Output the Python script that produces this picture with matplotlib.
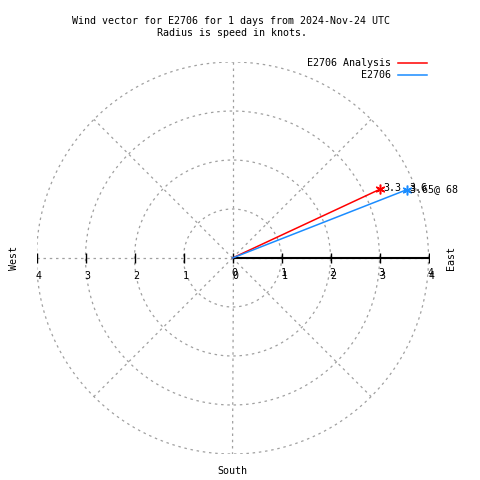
import numpy as np
import matplotlib.pyplot as plt

# wind vectors: speed in knots, compass direction (deg, clockwise from north)
series = ['E2706 Analysis', 'E2706']
speeds = [3.33, 3.82]
directions = [65.0, 68.6]
colors = ['#ff0000', '#1a8cff']
point_labels = ['3.3', '3.6']
extra_label = '3.65@ 68'

rings = [1, 2, 3, 4]
spokes = [0, 45, 90, 135, 180, 225, 270, 315]
right_ticks = [0, 1, 2, 3, 4]
left_ticks = [-4, -3, -2, -1]

plt.rcParams['font.family'] = ['DejaVu Sans Mono']
fs = 7.2
grey = '#a0a0a0'
dash = (0, (2, 3))

fig = plt.figure(figsize=(4.8, 4.8), dpi=100)
ax = fig.add_axes([36.5 / 480, 26 / 480, 392 / 480, 392 / 480])
ax.set_xlim(-4, 4)
ax.set_ylim(-4, 4)
ax.set_aspect('equal')
ax.axis('off')

# polar grid
t = np.linspace(0, 2 * np.pi, 361)
for r in rings:
    ax.plot(r * np.cos(t), r * np.sin(t), color=grey, lw=0.9, ls=dash)
for a in spokes:
    ar = np.radians(a)
    ax.plot([0, 4 * np.cos(ar)], [0, 4 * np.sin(ar)], color=grey, lw=0.9, ls=dash)

# axis along east
ax.plot([0, 4], [0, 0], color='black', lw=1.5)
ticks = left_ticks + right_ticks
ax.plot(ticks, [0] * len(ticks), ls='none', marker='|', ms=7.5, mew=1, color='black')
for v in left_ticks:
    ax.text(v + 0.04, -0.36, str(abs(v)), fontsize=fs, ha='center', va='center')
for v in right_ticks:
    ax.text(v + 0.04, -0.3, str(v), fontsize=fs, ha='center', va='center')
    ax.text(v + 0.06, -0.37, str(v), fontsize=fs, ha='center', va='center')

# vectors
for name, s, d, c, lab in zip(series, speeds, directions, colors, point_labels):
    ang = np.radians(90 - d)
    x, y = s * np.cos(ang), s * np.sin(ang)
    ax.plot([0, x], [0, y], color=c, lw=1.1)
    ax.plot([x], [y], marker=(6, 2, 0), ms=7, mew=1.1, color=c, ls='none')
    ax.text(x + 0.05, y + 0.03, lab, fontsize=fs, ha='left', va='center')
ang = np.radians(90 - directions[1])
ax.text(speeds[1] * np.cos(ang) + 0.07, speeds[1] * np.sin(ang) + 0.01, extra_label,
        fontsize=fs, ha='left', va='center')

# compass labels
ax.text(-4.45, 0, 'West', rotation=90, fontsize=fs, ha='center', va='center')
ax.text(4.45, 0, 'East', rotation=90, fontsize=fs, ha='center', va='center')
ax.text(0, -4.35, 'South', fontsize=fs, ha='center', va='center')

# titles
fig.text(231 / 480, 1 - 21 / 480, 'Wind vector for E2706 for 1 days from 2024-Nov-24 UTC',
         fontsize=fs, ha='center', va='center')
fig.text(232 / 480, 1 - 33 / 480, 'Radius is speed in knots.', fontsize=fs,
         ha='center', va='center')

# legend
for i, (name, c) in enumerate(zip(series, colors)):
    yy = 1 - (63 + 12 * i) / 480
    fig.text(391 / 480, yy, name, fontsize=fs, ha='right', va='center')
    fig.add_artist(plt.Line2D([398 / 480, 427 / 480], [yy, yy], color=c, lw=1.1))

fig.savefig('out.png', dpi=100)
